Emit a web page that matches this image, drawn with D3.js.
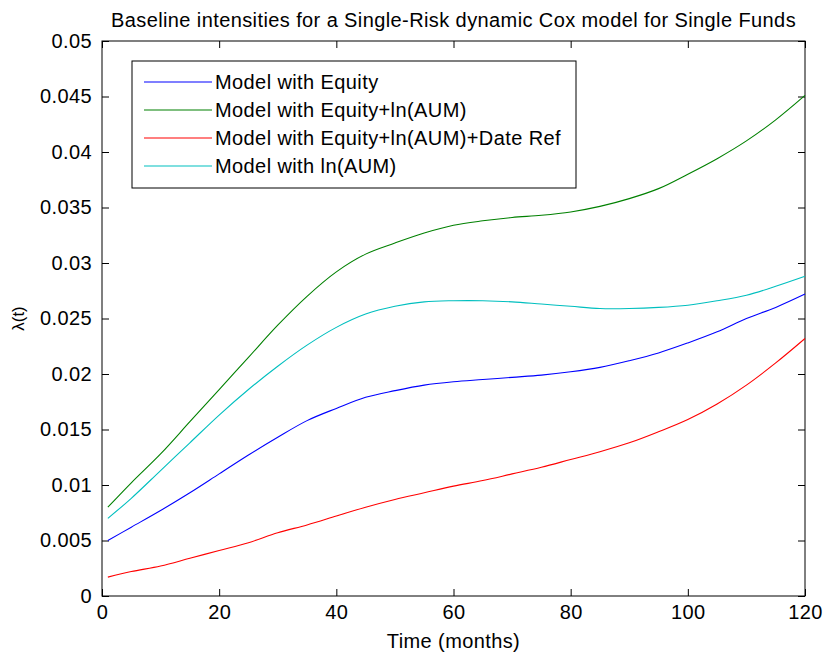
<!DOCTYPE html>
<html><head><meta charset="utf-8">
<script src="https://cdn.jsdelivr.net/npm/d3@7"></script>
<style>body{margin:0;background:#fff}svg{display:block}text{font-family:"Liberation Sans",Arial,sans-serif;fill:#000}</style>
</head><body>
<script>
const months = [1,5,10,15,20,25,30,35,40,45,50,55,60,65,70,75,80,85,90,95,100,105,110,115,120];
const equity = [0.005,0.0062,0.0077,0.0093,0.011,0.0127,0.0143,0.0158,0.0169,0.0179,0.0185,0.019,0.0193,0.0195,0.0197,0.0199,0.0202,0.0206,0.0212,0.0219,0.0228,0.0238,0.025,0.026,0.0272];
const equityAum = [0.008,0.0102,0.0128,0.0157,0.0186,0.0215,0.0244,0.027,0.0292,0.0308,0.0318,0.0327,0.0334,0.0338,0.0341,0.0343,0.0346,0.0351,0.0358,0.0367,0.038,0.0394,0.041,0.0429,0.0451];
const equityAumDate = [0.0017,0.0022,0.0027,0.0034,0.0041,0.0048,0.0057,0.0064,0.0072,0.008,0.0087,0.0093,0.0099,0.0104,0.011,0.0116,0.0123,0.013,0.0138,0.0148,0.0159,0.0173,0.019,0.021,0.0232];
const aum = [0.007,0.0088,0.0113,0.0138,0.0163,0.0186,0.0207,0.0226,0.0242,0.0254,0.0261,0.0265,0.0266,0.0266,0.0265,0.0263,0.0261,0.0259,0.0259,0.026,0.0262,0.0266,0.0271,0.0279,0.0288];
const seriesNames = ["Model with Equity","Model with Equity+ln(AUM)","Model with Equity+ln(AUM)+Date Ref","Model with ln(AUM)"];
const seriesColors = ["#0000ff","#008000","#ff0000","#00bfbf"];
const xTicks = [0,20,40,60,80,100,120];
const yTicks = [0,0.005,0.01,0.015,0.02,0.025,0.03,0.035,0.04,0.045,0.05];
const titleText = "Baseline intensities for a Single-Risk dynamic Cox model for Single Funds";
const xLabel = "Time (months)";
const yLabel = "λ(t)";

const W=827,H=660;
const L=102,R=805,T=41,B=596;
const svg=d3.select("body").append("svg").attr("width",W).attr("height",H);
const x=d3.scaleLinear().domain([0,120]).range([L,R]);
const y=d3.scaleLinear().domain([0,0.05]).range([B,T]);
const fs=20, ls="0.4px";

svg.append("rect").attr("x",L).attr("y",T).attr("width",R-L).attr("height",B-T).attr("fill","none").attr("stroke","#000").attr("stroke-width",1);

const tl=7;
const fmt=d=>d===0?"0":String(+d.toFixed(3));
const gb=svg.append("g").attr("transform",`translate(0,${B})`).call(d3.axisBottom(x).tickValues(xTicks).tickSizeInner(-tl).tickSizeOuter(0).tickPadding(9).tickFormat(d3.format("d")));
const gt=svg.append("g").attr("transform",`translate(0,${T})`).call(d3.axisTop(x).tickValues(xTicks).tickSizeInner(-tl).tickSizeOuter(0).tickFormat(""));
const gl=svg.append("g").attr("transform",`translate(${L},0)`).call(d3.axisLeft(y).tickValues(yTicks).tickSizeInner(-tl).tickSizeOuter(0).tickPadding(10).tickFormat(fmt));
const gr=svg.append("g").attr("transform",`translate(${R},0)`).call(d3.axisRight(y).tickValues(yTicks).tickSizeInner(-tl).tickSizeOuter(0).tickFormat(""));
[gb,gt,gl,gr].forEach(g=>{g.select(".domain").remove();g.selectAll("line").attr("stroke","#000");g.selectAll("text").attr("font-size",fs).attr("letter-spacing",ls).attr("font-family","Liberation Sans, Arial, sans-serif").attr("fill","#000");});

const data=[equity,equityAum,equityAumDate,aum];
const line=d3.line().x((d,i)=>x(months[i])).y(d=>y(d)).curve(d3.curveCatmullRom);
data.forEach((s,k)=>{
  svg.append("path").attr("d",line(s)).attr("fill","none").attr("stroke",seriesColors[k]).attr("stroke-width",1.1);
});

svg.append("text").attr("x",(L+R)/2).attr("y",27).attr("text-anchor","middle").attr("font-size",fs).attr("letter-spacing",ls).text(titleText);
svg.append("text").attr("x",(L+R)/2).attr("y",648).attr("text-anchor","middle").attr("font-size",fs).attr("letter-spacing",ls).text(xLabel);
svg.append("text").attr("transform",`translate(24,${(T+B)/2}) rotate(-90)`).attr("text-anchor","middle").attr("font-size",17).text(yLabel);

const lg=svg.append("g");
lg.append("rect").attr("x",132).attr("y",61).attr("width",444).attr("height",127).attr("fill","#fff").attr("stroke","#000");
seriesNames.forEach((n,k)=>{
  const yy=82+k*28;
  lg.append("line").attr("x1",144).attr("x2",212).attr("y1",yy).attr("y2",yy).attr("stroke",seriesColors[k]).attr("stroke-width",1.1);
  lg.append("text").attr("x",215).attr("y",yy).attr("dy","0.35em").attr("font-size",fs).attr("letter-spacing",ls).text(n);
});
</script>
</body></html>
